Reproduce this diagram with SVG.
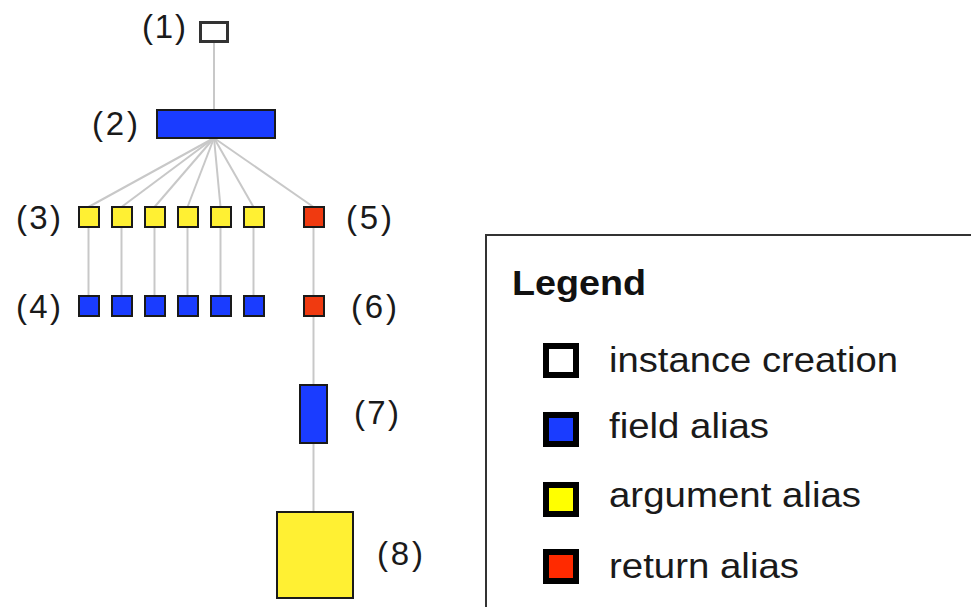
<svg xmlns="http://www.w3.org/2000/svg" width="971" height="607" viewBox="0 0 971 607">
  <style>
    .edge { stroke: #c8c8c8; stroke-width: 2; fill: none; }
    .node { stroke: #1a1a1a; stroke-width: 2; }
    .creation { fill: #ffffff; stroke: #333333; stroke-width: 3; }
    .field { fill: #1a3cff; }
    .argument { fill: #fff033; }
    .ret { fill: #f03a10; }
    .lbl { font-family: "Liberation Sans", Arial, sans-serif; font-size: 33px; fill: #1a1a1a; }
    .key { stroke: #000000; stroke-width: 6; }
    .keytext { font-family: "Liberation Sans", Arial, sans-serif; font-size: 35px; fill: #1a1a1a; }
  </style>

  <rect x="0" y="0" width="971" height="607" fill="#ffffff"/>

  <!-- connectors -->
  <g id="edges">
    <line class="edge" x1="214" y1="42" x2="214" y2="110"/>
    <line class="edge" x1="214" y1="138" x2="88.5" y2="207"/>
    <line class="edge" x1="214" y1="138" x2="121.5" y2="207"/>
    <line class="edge" x1="214" y1="138" x2="154.5" y2="207"/>
    <line class="edge" x1="214" y1="138" x2="187.5" y2="207"/>
    <line class="edge" x1="214" y1="138" x2="220.5" y2="207"/>
    <line class="edge" x1="214" y1="138" x2="253.5" y2="207"/>
    <line class="edge" x1="214" y1="138" x2="313.5" y2="207"/>
    <line class="edge" x1="88.5" y1="227" x2="88.5" y2="296"/>
    <line class="edge" x1="121.5" y1="227" x2="121.5" y2="296"/>
    <line class="edge" x1="154.5" y1="227" x2="154.5" y2="296"/>
    <line class="edge" x1="187.5" y1="227" x2="187.5" y2="296"/>
    <line class="edge" x1="220.5" y1="227" x2="220.5" y2="296"/>
    <line class="edge" x1="253.5" y1="227" x2="253.5" y2="296"/>
    <line class="edge" x1="313.5" y1="227" x2="313.5" y2="296"/>
    <line class="edge" x1="313.5" y1="317" x2="313.5" y2="385"/>
    <line class="edge" x1="313.5" y1="443" x2="313.5" y2="512"/>
  </g>

  <!-- (1) instance creation -->
  <g id="n1">
    <rect class="creation" x="200.5" y="22.5" width="27" height="19"/>
    <text class="lbl" x="142" y="38" textLength="44" lengthAdjust="spacing">(1)</text>
  </g>

  <!-- (2) field -->
  <g id="n2">
    <rect class="node field" x="157" y="110" width="118" height="28"/>
    <text class="lbl" x="92" y="135" textLength="46" lengthAdjust="spacing">(2)</text>
  </g>

  <!-- (3) arguments -->
  <g id="n3">
    <rect class="node argument" x="79" y="207" width="20" height="20"/>
    <rect class="node argument" x="112" y="207" width="20" height="20"/>
    <rect class="node argument" x="145" y="207" width="20" height="20"/>
    <rect class="node argument" x="178" y="207" width="20" height="20"/>
    <rect class="node argument" x="211" y="207" width="20" height="20"/>
    <rect class="node argument" x="244" y="207" width="20" height="20"/>
    <text class="lbl" x="16" y="229" textLength="45" lengthAdjust="spacing">(3)</text>
  </g>

  <!-- (4) fields -->
  <g id="n4">
    <rect class="node field" x="79" y="296" width="20" height="20"/>
    <rect class="node field" x="112" y="296" width="20" height="20"/>
    <rect class="node field" x="145" y="296" width="20" height="20"/>
    <rect class="node field" x="178" y="296" width="20" height="20"/>
    <rect class="node field" x="211" y="296" width="20" height="20"/>
    <rect class="node field" x="244" y="296" width="20" height="20"/>
    <text class="lbl" x="16" y="318" textLength="45" lengthAdjust="spacing">(4)</text>
  </g>

  <!-- (5) return -->
  <g id="n5">
    <rect class="node ret" x="304" y="207" width="20" height="20"/>
    <text class="lbl" x="346" y="229" textLength="46" lengthAdjust="spacing">(5)</text>
  </g>

  <!-- (6) return -->
  <g id="n6">
    <rect class="node ret" x="304" y="296" width="20" height="20"/>
    <text class="lbl" x="351" y="318" textLength="46" lengthAdjust="spacing">(6)</text>
  </g>

  <!-- (7) field -->
  <g id="n7">
    <rect class="node field" x="300" y="385" width="27" height="58"/>
    <text class="lbl" x="354" y="424" textLength="45" lengthAdjust="spacing">(7)</text>
  </g>

  <!-- (8) argument -->
  <g id="n8">
    <rect class="node argument" x="277" y="512" width="76" height="86"/>
    <text class="lbl" x="377" y="565" textLength="46" lengthAdjust="spacing">(8)</text>
  </g>

  <!-- legend -->
  <g id="legend">
    <rect x="486" y="235" width="500" height="400" fill="#ffffff" stroke="#333333" stroke-width="2"/>
    <text x="512" y="295" font-family="Liberation Sans, Arial, sans-serif" font-size="35" font-weight="bold" fill="#111111" textLength="134" lengthAdjust="spacingAndGlyphs">Legend</text>
    <rect class="key" x="546" y="346" width="30" height="29" fill="#ffffff"/>
    <text class="keytext" x="609" y="372" textLength="289" lengthAdjust="spacingAndGlyphs">instance creation</text>
    <rect class="key" x="546" y="415" width="30" height="29" fill="#1a3cff"/>
    <text class="keytext" x="609" y="438" textLength="160" lengthAdjust="spacingAndGlyphs">field alias</text>
    <rect class="key" x="546" y="485" width="30" height="29" fill="#ffff00"/>
    <text class="keytext" x="609" y="507" textLength="252" lengthAdjust="spacingAndGlyphs">argument alias</text>
    <rect class="key" x="546" y="552" width="30" height="29" fill="#ff2a00"/>
    <text class="keytext" x="609" y="578" textLength="190" lengthAdjust="spacingAndGlyphs">return alias</text>
  </g>
</svg>
